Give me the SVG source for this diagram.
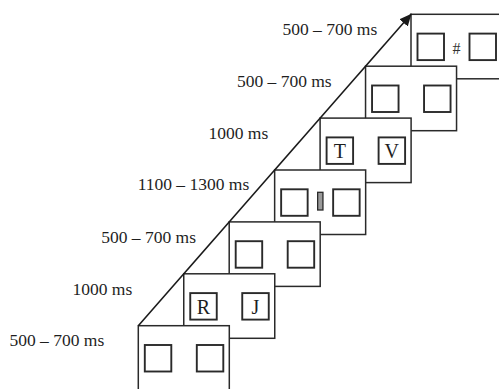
<svg xmlns="http://www.w3.org/2000/svg" width="499" height="389" viewBox="0 0 499 389">
  <style>
    .frame { fill: #ffffff; stroke: #2a2a2a; stroke-width: 1.5; }
    .sq { fill: #ffffff; stroke: #2a2a2a; stroke-width: 1.9; }
    .bar { fill: #9a9a9a; stroke: #2a2a2a; stroke-width: 1.3; }
    .lbl { font-family: "Liberation Serif", "Times New Roman", serif; font-size: 17.5px; fill: #1e1e1e; text-anchor: end; }
    .let { font-family: "Liberation Serif", "Times New Roman", serif; font-size: 20px; fill: #1e1e1e; text-anchor: middle; }
    .hash { font-family: "Liberation Serif", "Times New Roman", serif; font-size: 16px; fill: #333333; text-anchor: middle; }
    .conn { fill: none; stroke: #1a1a1a; stroke-width: 1.6; }
  </style>
  <defs>
    <marker id="arrow" markerUnits="userSpaceOnUse" markerWidth="13" markerHeight="11" refX="12" refY="5.5" orient="auto">
      <path d="M0,0 L12,5.5 L0,11 Z" fill="#1a1a1a"/>
    </marker>
  </defs>
  <rect width="499" height="389" fill="#ffffff"/>

  <g id="frame7" transform="translate(411,14.3)">
    <rect class="frame" x="0" y="0" width="91" height="64.5"/>
    <rect class="sq" x="6.5" y="19.3" width="26.5" height="26.5"/>
    <rect class="sq" x="58.5" y="19.3" width="26.5" height="26.5"/>
    <text class="hash" x="45.5" y="40">#</text>
  </g>
  <g id="frame6" transform="translate(365.55,66.2)">
    <rect class="frame" x="0" y="0" width="91" height="64.5"/>
    <rect class="sq" x="6.5" y="19.3" width="26.5" height="26.5"/>
    <rect class="sq" x="58.5" y="19.3" width="26.5" height="26.5"/>
  </g>
  <g id="frame5" transform="translate(320.1,118.1)">
    <rect class="frame" x="0" y="0" width="91" height="64.5"/>
    <rect class="sq" x="6.5" y="19.3" width="26.5" height="26.5"/>
    <rect class="sq" x="58.5" y="19.3" width="26.5" height="26.5"/>
    <text class="let" x="19.75" y="40">T</text>
    <text class="let" x="71.75" y="40">V</text>
  </g>
  <g id="frame4" transform="translate(274.65,170)">
    <rect class="frame" x="0" y="0" width="91" height="64.5"/>
    <rect class="sq" x="6.5" y="19.3" width="26.5" height="26.5"/>
    <rect class="sq" x="58.5" y="19.3" width="26.5" height="26.5"/>
    <rect class="bar" x="43" y="22.3" width="5.3" height="17.7"/>
  </g>
  <g id="frame3" transform="translate(229.2,221.9)">
    <rect class="frame" x="0" y="0" width="91" height="64.5"/>
    <rect class="sq" x="6.5" y="19.3" width="26.5" height="26.5"/>
    <rect class="sq" x="58.5" y="19.3" width="26.5" height="26.5"/>
  </g>
  <g id="frame2" transform="translate(183.75,273.8)">
    <rect class="frame" x="0" y="0" width="91" height="64.5"/>
    <rect class="sq" x="6.5" y="19.3" width="26.5" height="26.5"/>
    <rect class="sq" x="58.5" y="19.3" width="26.5" height="26.5"/>
    <text class="let" x="19.75" y="40">R</text>
    <text class="let" x="71.75" y="40">J</text>
  </g>
  <g id="frame1" transform="translate(138.3,325.7)">
    <rect class="frame" x="0" y="0" width="91" height="64.5"/>
    <rect class="sq" x="6.5" y="19.3" width="26.5" height="26.5"/>
    <rect class="sq" x="58.5" y="19.3" width="26.5" height="26.5"/>
  </g>

  <g id="connectors">
    <line class="conn" x1="138.3" y1="325.7" x2="411.5" y2="13.8" marker-end="url(#arrow)"/>
  </g>

  <g id="labels">
    <text class="lbl" x="377.3" y="35">500 – 700 ms</text>
    <text class="lbl" x="331.7" y="87">500 – 700 ms</text>
    <text class="lbl" x="268.3" y="138.5">1000 ms</text>
    <text class="lbl" x="249.3" y="189.5">1100 – 1300 ms</text>
    <text class="lbl" x="196" y="242.5">500 – 700 ms</text>
    <text class="lbl" x="132.3" y="295">1000 ms</text>
    <text class="lbl" x="104.3" y="346">500 – 700 ms</text>
  </g>
</svg>
